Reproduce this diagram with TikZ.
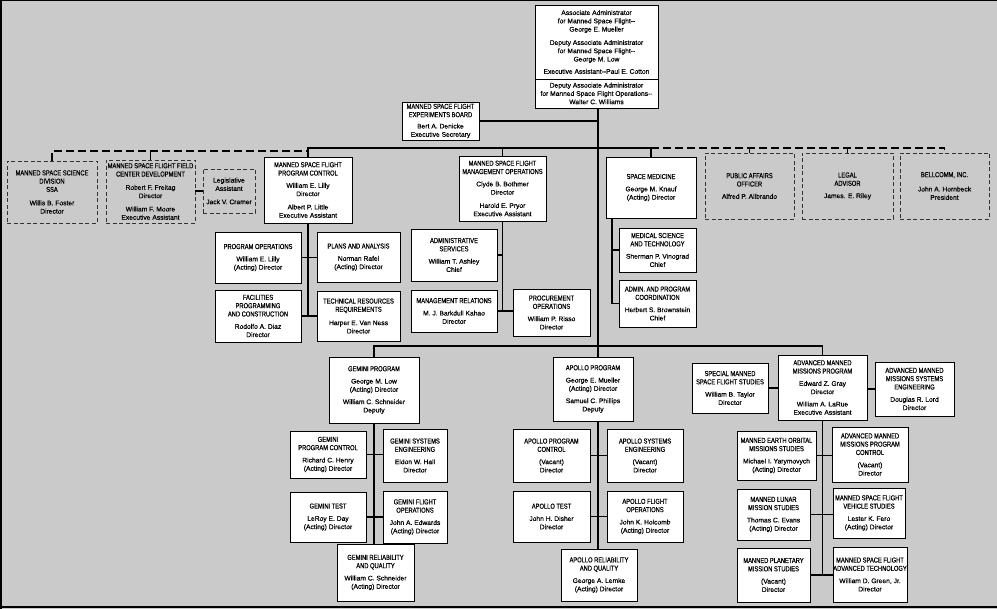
\documentclass[tikz,border=0pt]{standalone}
\usepackage{fontspec}
\newfontfamily\nf{Liberation Sans}[FakeBold=0.4]
\newfontfamily\cf{Liberation Sans}[FakeStretch=0.8,FakeBold=0.4]
\newcommand{\C}[1]{{\cf\fontsize{7.2}{8.3}\selectfont #1}}
\definecolor{bg}{RGB}{202,202,202}
\tikzset{
  box/.style={draw=black, line width=0.9pt, fill=white, inner sep=0pt, outer sep=0pt, align=center,
    font=\nf\fontsize{6.7}{8.3}\selectfont},
  dbox/.style={box, fill=none, draw=black!80, line width=0.6pt, dash pattern=on 4pt off 2.5pt},
  conn/.style={line width=1.3pt},
  dconn/.style={line width=1.2pt, dash pattern=on 8pt off 4pt}
}
\newcommand{\bx}[7]{%
  \node[#1,minimum width={(#5-#3)*1pt},minimum height={(#6-#4)*1pt}] (#2) at ({(#3+#5)/2},{(#4+#6)/2}) {#7};}
\begin{document}
\begin{tikzpicture}[x=1pt,y=-1pt]
\useasboundingbox (0,0) rectangle (997,609);
\fill[bg] (0,0) rectangle (997,609);
\draw[line width=1.5pt] (0,0.75) -- (997,0.75);
\draw[line width=1.5pt] (0.75,0) -- (0.75,609);
\draw[line width=2pt] (0,607) -- (997,607);

% top
\bx{box}{topa}{535}{5}{658}{79}{Associate Administrator\\for Manned Space Flight-{}-\\George E. Mueller\\[5pt]Deputy Associate Administrator\\for Manned Space Flight-{}-\\George M. Low\\[4pt]Executive Assistant-{}-Paul E. Cotton}
\bx{box}{topb}{535}{79}{658}{108}{Deputy Associate Administrator\\for Manned Space Flight Operations-{}-\\Walter C. Williams}
\bx{box}{exp}{402}{102}{479}{140}{\C{MANNED SPACE FLIGHT}\\\C{EXPERIMENTS BOARD}\\[3pt]Bert A. Denicke\\Executive Secretary}

% second level
\bx{dbox}{ss}{7}{161}{97}{223}{\C{MANNED SPACE SCIENCE}\\\C{DIVISION}\\\C{SSA}\\[5pt]Willis B. Foster\\Director}
\bx{dbox}{fc}{106}{160}{195}{223}{\C{MANNED SPACE FLIGHT FIELD}\\\C{CENTER DEVELOPMENT}\\[5pt]Robert F. Freitag\\Director\\[5pt]William F. Moore\\Executive Assistant}
\bx{dbox}{leg}{203}{169}{255}{213}{Legislative\\Assistant\\[5pt]Jack V. Cramer}
\bx{box}{pc}{264}{157}{352}{223}{\C{MANNED SPACE FLIGHT}\\\C{PROGRAM CONTROL}\\[4pt]William E. Lilly\\Director\\[5pt]Albert P. Little\\Executive Assistant}
\bx{box}{mo}{459}{156}{546}{221}{\C{MANNED SPACE FLIGHT}\\\C{MANAGEMENT OPERATIONS}\\[4pt]Clyde B. Bothmer\\Director\\[5pt]Harold E. Pryor\\Executive Assistant}
\bx{box}{sm}{606}{157}{696}{218}{\C{SPACE MEDICINE}\\[4pt]George M. Knauf\\(Acting) Director}
\bx{dbox}{paf}{705}{153}{794}{219}{\C{PUBLIC AFFAIRS}\\\C{OFFICER}\\[4pt]Alfred P. Allbrando}
\bx{dbox}{lg}{802}{153}{893}{219}{\C{LEGAL}\\\C{ADVISOR}\\[4pt]James. E. Riley}
\bx{dbox}{bc}{900}{153}{989}{219}{\C{BELLCOMM, INC.}\\[6pt]John A. Hornbeck\\President}

% program control subs
\bx{box}{po}{215}{232}{301}{283}{\C{PROGRAM OPERATIONS}\\[4pt]William E. Lilly\\(Acting) Director}
\bx{box}{pla}{317}{232}{400}{282}{\C{PLANS AND ANALYSIS}\\[4pt]Norman Rafel\\(Acting) Director}
\bx{box}{fac}{215}{290}{301}{342}{\C{FACILITIES}\\\C{PROGRAMMING}\\\C{AND CONSTRUCTION}\\[4pt]Rodolfo A. Diaz\\Director}
\bx{box}{tr}{317}{291}{400}{341}{\C{TECHNICAL RESOURCES}\\\C{REQUIREMENTS}\\[5pt]Harper E. Van Ness\\Director}

% management ops subs
\bx{box}{as}{411}{229}{497}{281}{\C{ADMINISTRATIVE}\\\C{SERVICES}\\[4pt]William T. Ashley\\Chief}
\bx{box}{mr}{411}{290}{497}{332}{\C{MANAGEMENT RELATIONS}\\[4pt]M. J. Barkdull Kahao\\Director}
\bx{box}{pr}{513}{289}{590}{336}{\C{PROCUREMENT}\\\C{OPERATIONS}\\[4pt]William P. Risso\\Director}

% space medicine subs
\bx{box}{ms}{619}{228}{696}{272}{\C{MEDICAL SCIENCE}\\\C{AND TECHNOLOGY}\\[4pt]Sherman P. Vinograd\\Chief}
\bx{box}{apc}{619}{280}{696}{327}{\C{ADMIN. AND PROGRAM}\\\C{COORDINATION}\\[4pt]Herbert S. Brownstein\\Chief}

% Gemini
\bx{box}{gp}{329}{357}{419}{423}{\C{GEMINI PROGRAM}\\[4pt]George M. Low\\(Acting) Director\\[4pt]William C. Schneider\\Deputy}
\bx{box}{gpc}{290}{431}{366}{478}{\C{GEMINI}\\\C{PROGRAM CONTROL}\\[4pt]Richard C. Henry\\(Acting) Director}
\bx{box}{gse}{383}{429}{447}{482}{\C{GEMINI SYSTEMS}\\\C{ENGINEERING}\\[4pt]Eldon W. Hall\\Director}
\bx{box}{gt}{290}{492}{366}{542}{\C{GEMINI TEST}\\[4pt]LeRoy E. Day\\(Acting) Director}
\bx{box}{gfo}{383}{491}{447}{543}{\C{GEMINI FLIGHT}\\\C{OPERATIONS}\\[4pt]John A. Edwards\\(Acting) Director}
\bx{box}{gr}{337}{544}{414}{601}{\C{GEMINI RELIABILITY}\\\C{AND QUALITY}\\[4pt]William C. Schneider\\(Acting) Director}

% Apollo
\bx{box}{ap}{553}{357}{633}{421}{\C{APOLLO PROGRAM}\\[4pt]George E. Mueller\\(Acting) Director\\[4pt]Samuel C. Phillips\\Deputy}
\bx{box}{apcn}{513}{429}{590}{482}{\C{APOLLO PROGRAM}\\\C{CONTROL}\\[4pt](Vacant)\\Director}
\bx{box}{ase}{607}{429}{683}{482}{\C{APOLLO SYSTEMS}\\\C{ENGINEERING}\\[4pt](Vacant)\\Director}
\bx{box}{at}{513}{491}{590}{542}{\C{APOLLO TEST}\\[4pt]John H. Disher\\Director}
\bx{box}{afo}{607}{491}{683}{542}{\C{APOLLO FLIGHT}\\\C{OPERATIONS}\\[4pt]John K. Holcomb\\(Acting) Director}
\bx{box}{ar}{561}{549}{637}{601}{\C{APOLLO RELIABILITY}\\\C{AND QUALITY}\\[4pt]George A. Lemke\\(Acting) Director}

% Advanced
\bx{box}{amp}{778}{355}{867}{420}{\C{ADVANCED MANNED}\\\C{MISSIONS PROGRAM}\\[4pt]Edward Z. Gray\\Director\\[4pt]William A. LaRue\\Executive Assistant}
\bx{box}{sms}{692}{363}{768}{413}{\C{SPECIAL MANNED}\\\C{SPACE FLIGHT STUDIES}\\[4pt]William B. Taylor\\Director}
\bx{box}{amse}{875}{362}{954}{416}{\C{ADVANCED MANNED}\\\C{MISSIONS SYSTEMS}\\\C{ENGINEERING}\\[4pt]Douglas R. Lord\\Director}
\bx{box}{meo}{737}{431}{816}{480}{\C{MANNED EARTH ORBITAL}\\\C{MISSIONS STUDIES}\\[4pt]Michael I. Yarymovych\\(Acting) Director}
\bx{box}{ampc}{832}{427}{908}{482}{\C{ADVANCED MANNED}\\\C{MISSIONS PROGRAM}\\\C{CONTROL}\\[4pt](Vacant)\\Director}
\bx{box}{mls}{737}{489}{810}{540}{\C{MANNED LUNAR}\\\C{MISSION STUDIES}\\[4pt]Thomas C. Evans\\(Acting) Director}
\bx{box}{mvs}{833}{488}{905}{538}{\C{MANNED SPACE FLIGHT}\\\C{VEHICLE STUDIES}\\[4pt]Lester K. Fero\\(Acting) Director}
\bx{box}{mpl}{737}{548}{810}{602}{\C{MANNED PLANETARY}\\\C{MISSION STUDIES}\\[4pt](Vacant)\\Director}
\bx{box}{mat}{833}{547}{907}{602}{\C{MANNED SPACE FLIGHT}\\\C{ADVANCED TECHNOLOGY}\\[4pt]William D. Green, Jr.\\Director}

% connectors
\coordinate (T) at (598,0);
\coordinate (B1) at (0,148);
\coordinate (B3) at (0,151);
\coordinate (LB) at (0,346);
\coordinate (SX) at (612,0);

\draw[conn] (topb.south -| T) -- (ap.north -| T);
\draw[conn] (exp.east) -- (exp.east -| T);
\draw[conn] (pc.north) |- (B1 -| sm.north) -- (sm.north);
\draw[conn] (mo.north) -- (mo.north |- B1);
\draw[dconn] (B1 -| sm.north) -| (bc.north);
\draw[dconn] (paf.north) -- (paf.north |- B1);
\draw[dconn] (lg.north) -- (lg.north |- B1);
\draw[dconn] (ss.north) |- (B3 -| pc.north);
\draw[dconn] (fc.north) -- (fc.north |- B3);
\draw[dconn] (leg.west -| fc.east) -- (leg.west);

\draw[conn] (pc.south) -- (pc.south |- fac.east);
\draw[conn] (po.east) -- (pla.west |- po.east);
\draw[conn] (fac.east) -- (tr.west |- fac.east);
\draw[conn] (mo.south) -- (mo.south |- mr.east);
\draw[conn] (as.east) -- (as.east -| mo.south);
\draw[conn] (mr.east) -- (pr.west |- mr.east);
\draw[conn] (sm.south -| SX) |- (apc.west);
\draw[conn] (ms.west -| SX) -- (ms.west);

\draw[conn] (gp.north) |- (LB -| amp.north) -- (amp.north);
\draw[conn] (gp.south) -- (gp.south |- gr.north);
\draw[conn] (gpc.east) -- (gse.west |- gpc.east);
\draw[conn] (gt.east) -- (gfo.west |- gt.east);
\draw[conn] (ap.south -| T) -- (ar.north -| T);
\draw[conn] (apcn.east) -- (ase.west |- apcn.east);
\draw[conn] (at.east) -- (afo.west |- at.east);
\draw[conn] (sms.east) -- (amp.west |- sms.east);
\draw[conn] (amse.west) -- (amp.east |- amse.west);
\draw[conn] (amp.south) -- (amp.south |- mpl.east);
\draw[conn] (meo.east) -- (ampc.west |- meo.east);
\draw[conn] (mls.east) -- (mvs.west |- mls.east);
\draw[conn] (mpl.east) -- (mat.west |- mpl.east);
\end{tikzpicture}
\end{document}
